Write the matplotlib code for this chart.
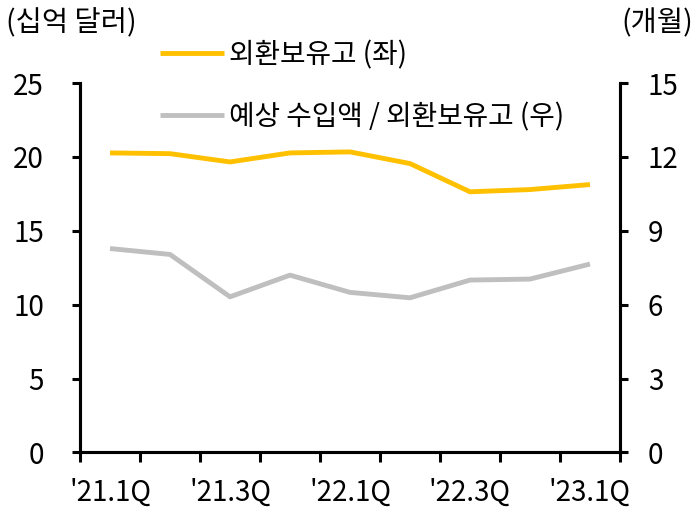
import numpy as np
import matplotlib.pyplot as plt

plt.rcParams['font.family'] = ['Noto Sans CJK KR', 'DejaVu Sans']

quarters = ["'21.1Q", "'21.2Q", "'21.3Q", "'21.4Q", "'22.1Q", "'22.2Q", "'22.3Q", "'22.4Q", "'23.1Q"]
reserves = [20.27, 20.22, 19.66, 20.27, 20.34, 19.55, 17.64, 17.79, 18.13]
import_months = [8.28, 8.04, 6.32, 7.20, 6.50, 6.28, 7.00, 7.04, 7.65]

orange = '#FFC000'
gray = '#BFBFBF'

fig = plt.figure(figsize=(7, 5.15), dpi=100)
ax = fig.add_axes([0.1143, 0.1214, 0.7714, 0.7174])
ax2 = ax.twinx()

x = np.arange(len(quarters))
l1, = ax.plot(x, reserves, color=orange, lw=3.5, solid_capstyle='butt')
l2, = ax2.plot(x, import_months, color=gray, lw=3.5, solid_capstyle='butt')

ax.set_xlim(-0.5, len(quarters) - 0.5)
ax.set_ylim(0, 25)
ax2.set_ylim(0, 15)
ax.set_yticks(np.arange(0, 26, 5))
ax2.set_yticks(np.arange(0, 16, 3))

# ticks at quarter boundaries, labels centred on every other quarter
ax.set_xticks(np.arange(-0.5, len(quarters), 1.0))
ax.set_xticklabels([])
ax.set_xticks(x[::2], minor=True)
ax.set_xticklabels(quarters[::2], minor=True)
ax.tick_params(axis='x', which='minor', length=0, pad=18, labelsize=20)
ax.tick_params(axis='x', which='major', length=7, width=2.2, direction='out')
ax.tick_params(axis='y', length=6, width=2.2, pad=20, labelsize=20)
ax2.tick_params(axis='y', length=6, width=2.2, pad=14, labelsize=20)

for a in (ax, ax2):
    a.spines['top'].set_visible(False)
    for s in ('left', 'right', 'bottom'):
        a.spines[s].set_linewidth(2.2)

fig.text(0.008, 0.955, '(십억 달러)', fontsize=20.5, va='center', ha='left')
fig.text(0.99, 0.955, '(개월)', fontsize=20.5, va='center', ha='right')

fig.legend([l1, l2], ['외환보유고 (좌)', '예상 수입액 / 외환보유고 (우)'],
           loc='upper left', bbox_to_anchor=(0.2286, 0.922), frameon=False,
           borderpad=0, borderaxespad=0,
           fontsize=20, handlelength=2.3, handletextpad=0.2, labelspacing=1.15)

fig.savefig('out.png', dpi=100)
